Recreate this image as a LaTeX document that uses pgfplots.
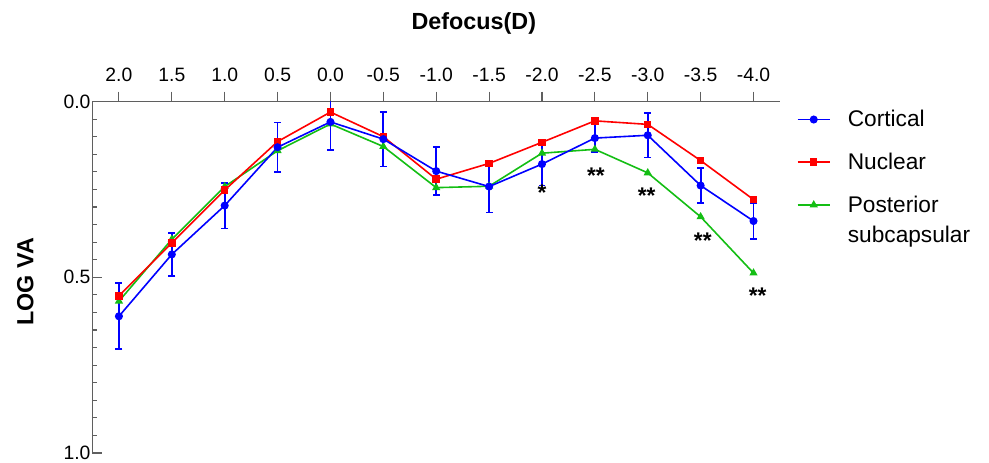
\documentclass[border=0pt]{standalone}
\usepackage{pgfplots}
\pgfplotsset{compat=1.18}
\usepackage{pgfplotstable}
\usepackage{fontspec}
\setmainfont{Liberation Sans}
\definecolor{cblue}{RGB}{0,0,255}
\definecolor{cred}{RGB}{255,0,0}
\definecolor{cgreen}{RGB}{20,190,20}
\definecolor{axgray}{RGB}{95,95,95}

\pgfplotstableread{
x y e
2.0 0.611 0.094
1.5 0.435 0.061
1.0 0.296 0.065
0.5 0.130 0.070
0.0 0.058 0.080
-0.5 0.107 0.078
-1.0 0.198 0.068
-1.5 0.242 0.074
-2.0 0.178 0.061
-2.5 0.104 0.040
-3.0 0.096 0.063
-3.5 0.239 0.049
-4.0 0.340 0.051
}\cortical

\pgfplotstableread{
x y
2.0 0.553
1.5 0.402
1.0 0.252
0.5 0.114
0.0 0.030
-0.5 0.100
-1.0 0.221
-1.5 0.176
-2.0 0.116
-2.5 0.055
-3.0 0.065
-3.5 0.168
-4.0 0.279
}\nuclear

\pgfplotstableread{
x y
2.0 0.568
1.5 0.392
1.0 0.242
0.5 0.140
0.0 0.064
-0.5 0.128
-1.0 0.245
-1.5 0.241
-2.0 0.147
-2.5 0.136
-3.0 0.203
-3.5 0.328
-4.0 0.488
}\posterior

\begin{document}
\begin{tikzpicture}
\begin{axis}[
  scale only axis, width=515.6pt, height=263.6pt,
  x dir=reverse, y dir=reverse,
  xmin=-4.25, xmax=2.25, ymin=0, ymax=1,
  axis x line=top, axis y line=left,
  axis line style={-, axgray, line width=0.8pt},
  every outer x axis line/.append style={-},
  every outer y axis line/.append style={-},
  tick align=inside,
  major tick length=7.5pt, minor tick length=3.5pt,
  tick style={axgray, line width=0.8pt},
  every major x tick/.append style={yshift=7.5pt},
  xtick={2,1.5,1,0.5,0,-0.5,-1,-1.5,-2,-2.5,-3,-3.5,-4},
  ytick={0,0.5,1}, minor y tick num=9,
  ticklabel style={font=\fontsize{14.5}{17}\selectfont},
  /pgf/number format/assume math mode=true,
  /pgf/number format/fixed,
  /pgf/number format/fixed zerofill,
  /pgf/number format/precision=1,
  yticklabel style={inner xsep=1.35pt},
  xticklabel style={inner ysep=0pt, yshift=14.9pt},
  legend style={at={(1.0247,0.975)}, anchor=north west, draw=none, fill=none,
    inner sep=0pt, outer sep=0pt,
    font=\fontsize{17}{22.5}\selectfont, row sep=18.2pt, column sep=13pt,
    nodes={inner sep=0pt}},
  legend cell align=left,
  legend image code/.code={
    \draw[mark repeat=2, mark phase=2, #1] plot coordinates {(0pt,0pt) (12pt,0pt) (24pt,0pt)};
  },
  reverse legend,
]
\coordinate (O) at (axis cs:2.25,1);
\addplot[cgreen, line width=1.2pt, mark=triangle*, mark size=2.4pt,
  mark options={solid}] table[x=x, y=y] {\posterior};
\addlegendentry{\vtop{\hbox{Posterior}\hbox{subcapsular}}}
\addplot[cred, line width=1.2pt, mark=square*, mark size=2.2pt] table[x=x, y=y] {\nuclear};
\addlegendentry{Nuclear}
\addplot[cblue, line width=1.2pt, mark=*, mark size=2.4pt,
  error bars/.cd, y dir=both, y explicit,
  error bar style={line width=1.3pt, draw=cblue, color=cblue},
  error mark options={rotate=90, mark size=2.6pt, line width=1.3pt, draw=cblue, color=cblue}]
  table[x=x, y=y, y error=e] {\cortical};
\addlegendentry{Cortical}
\node[anchor=base, font=\bfseries\fontsize{17}{20}\selectfont] at (axis cs:-2.0,0.282) {*};
\node[anchor=base, font=\bfseries\fontsize{17}{20}\selectfont] at (axis cs:-2.51,0.234) {**};
\node[anchor=base, font=\bfseries\fontsize{17}{20}\selectfont] at (axis cs:-2.99,0.289) {**};
\node[anchor=base, font=\bfseries\fontsize{17}{20}\selectfont] at (axis cs:-3.52,0.417) {**};
\node[anchor=base, font=\bfseries\fontsize{17}{20}\selectfont] at (axis cs:-4.04,0.574) {**};
\end{axis}
\node[anchor=base, font=\bfseries\fontsize{17.5}{20}\selectfont] at ([shift={(286.0pt,317.8pt)}]O) {Defocus(D)};
\node[anchor=base, rotate=90, font=\bfseries\fontsize{17.5}{20}\selectfont] at ([shift={(-44.4pt,128.25pt)}]O) {LOG VA};
\pgfresetboundingbox
\path[use as bounding box] ([shift={(-69.375pt,-7.5pt)}]O) rectangle ([shift={(672.375pt,339.75pt)}]O);
\end{tikzpicture}
\end{document}
